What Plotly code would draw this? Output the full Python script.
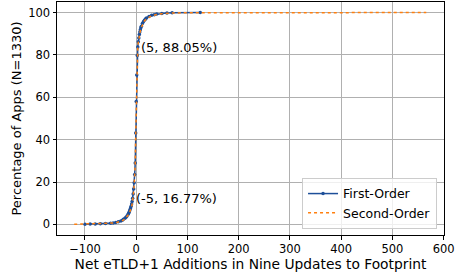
import plotly.graph_objects as go

# First-order CDF
first_x = [-100, -90, -80, -70, -60, -50, -45, -40, -35, -30, -27, -25, -22, -20, -18, -16, -15, -14, -13, -12, -11,
           -10, -9, -8, -7, -6, -5, -4, -3, -2, -1, 0, 1, 2, 3, 4, 5, 6, 7, 8, 9, 10, 12, 14, 16, 18, 20, 25, 30, 35,
           40, 50, 60, 70, 125]
first_y = [0.08, 0.15, 0.23, 0.3, 0.38, 0.53, 0.68, 0.9, 1.2, 1.6, 2.0, 2.4, 2.9, 3.4, 4.0, 4.7, 5.1, 5.7, 6.3, 7.0, 7.8,
           8.6, 9.6, 10.8, 12.3, 14.4, 16.77, 19.7, 23.6, 29.0, 43.1, 58.0, 70.5, 79.8, 83.7, 86.2, 88.05, 89.6, 90.8,
           91.9, 92.8, 93.6, 94.8, 95.7, 96.4, 97.0, 97.4, 98.2, 98.7, 99.0, 99.3, 99.6, 99.8, 99.9, 100.0]

# Second-order CDF
second_x = [-121, -100, -85, -70, -55, -45, -38, -32, -27, -23, -20, -17, -15, -13, -11, -10, -9, -8, -7, -6, -5, -4,
            -3, -2, -1, 0, 1, 2, 3, 4, 5, 6, 8, 10, 13, 16, 20, 25, 30, 40, 50, 70, 100, 566]
second_y = [0.08, 0.15, 0.23, 0.3, 0.45, 0.65, 0.95, 1.3, 1.8, 2.4, 3.1, 3.9, 4.6, 5.5, 6.7, 7.5, 8.4, 9.5, 10.9,
            12.9, 15.5, 18.6, 22.5, 28.5, 42.0, 57.0, 69.5, 78.5, 83.0, 85.8, 87.7, 89.2, 91.4, 93.0, 94.8, 96.0,
            97.0, 97.9, 98.5, 99.1, 99.5, 99.8, 99.95, 100.0]

annot_x = [5, -5]
annot_y = [88.05, 16.77]
annot_text = ["(5, 88.05%)", "(-5, 16.77%)"]

x_ticks = [-100, 0, 100, 200, 300, 400, 500, 600]
y_ticks = [0, 20, 40, 60, 80, 100]

FONT = "DejaVu Sans"

fig = go.Figure()
fig.add_trace(go.Scatter(
    x=first_x, y=first_y, mode="lines+markers", name="First-Order",
    line=dict(color="#1d4f99", width=1.5),
    marker=dict(color="#1d4f99", size=3.5),
))
fig.add_trace(go.Scatter(
    x=second_x, y=second_y, mode="lines", name="Second-Order",
    line=dict(color="#ff7f0e", width=1.5, dash="dot"),
))

for ax_, ay_, t_ in zip(annot_x, annot_y, annot_text):
    fig.add_annotation(x=ax_, y=ay_, text=t_, showarrow=False, xanchor="left", yanchor="top",
                       font=dict(family=FONT, size=13, color="black"))

axis_common = dict(
    showgrid=True, gridcolor="#b0b0b0", gridwidth=1,
    showline=True, linecolor="black", linewidth=1, mirror=True,
    ticks="outside", ticklen=3.5, tickcolor="black", zeroline=False,
    tickfont=dict(family=FONT, size=11.5, color="black"),
)

fig.update_xaxes(range=[-154.6, 600.6], tickvals=x_ticks,
                 ticktext=[("\u2212" + str(-v)) if v < 0 else str(v) for v in x_ticks],
                 title=dict(text="Net eTLD+1 Additions in Nine Updates to Footprint",
                            font=dict(family=FONT, size=13.8, color="black"), standoff=0),
                 **axis_common)
fig.update_yaxes(range=[-5, 105], tickvals=y_ticks,
                 title=dict(text="Percentage of Apps (N=1330)",
                            font=dict(family=FONT, size=13, color="black"), standoff=3),
                 **axis_common)

fig.update_layout(
    width=455, height=275,
    margin=dict(l=57, r=11, t=2, b=40, autoexpand=False),
    plot_bgcolor="white", paper_bgcolor="white",
    font=dict(family=FONT, size=13, color="black"),
    legend=dict(x=0.982, y=0.026, xanchor="right", yanchor="bottom",
                bordercolor="#cccccc", borderwidth=1, bgcolor="rgba(255,255,255,0.8)",
                font=dict(family=FONT, size=12.5, color="black"),
                itemwidth=30, tracegroupgap=0),
    showlegend=True,
)

fig.write_html("out.html", config={"displayModeBar": False},
               post_script="document.body.style.margin='0';document.body.style.padding='0';")
